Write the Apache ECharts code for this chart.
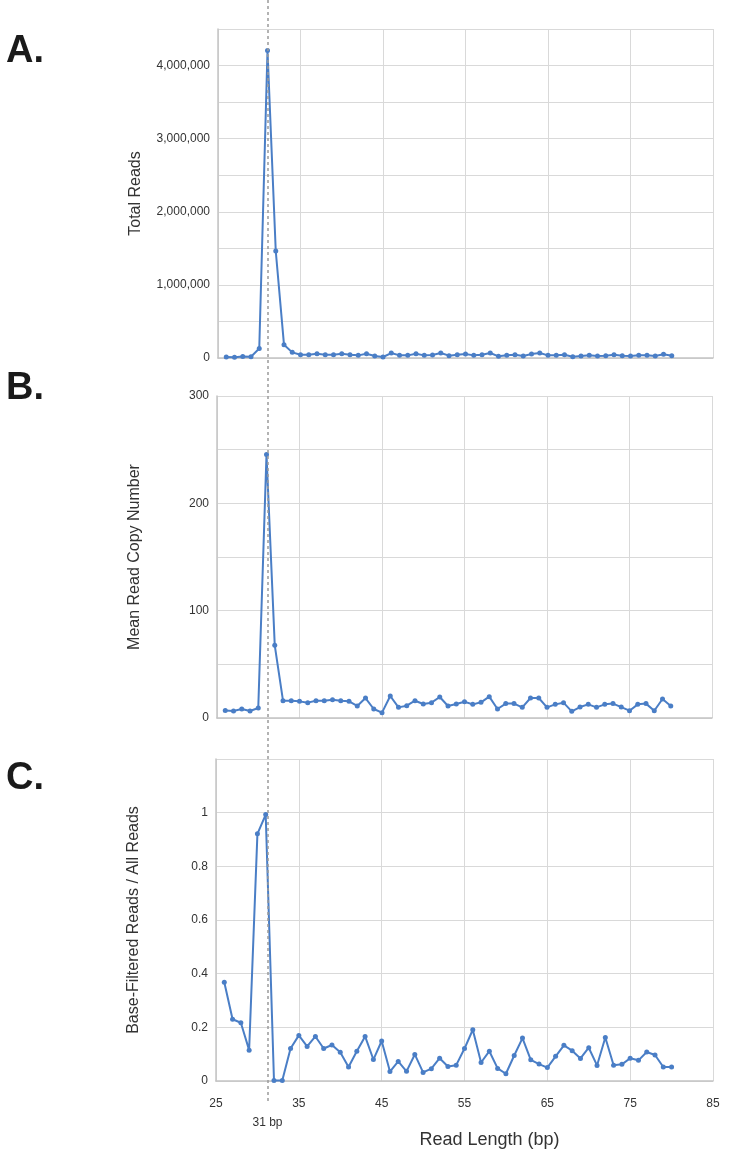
<!DOCTYPE html>
<html>
<head>
  <meta charset="utf-8">
  <title>Read length distribution</title>
  <script src="https://cdn.jsdelivr.net/npm/echarts@6/dist/echarts.min.js"></script>
  <style>
    html, body { margin: 0; padding: 0; background: #fff; }
    #main { width: 729px; height: 1150px; }
  </style>
</head>
<body>
  <div id="main"></div>
  <script>
  // read lengths (bp)
  var readLengths = [26, 27, 28, 29, 30, 31, 32, 33, 34, 35, 36, 37, 38, 39, 40, 41, 42, 43, 44, 45,
    46, 47, 48, 49, 50, 51, 52, 53, 54, 55, 56, 57, 58, 59, 60, 61, 62, 63, 64, 65,
    66, 67, 68, 69, 70, 71, 72, 73, 74, 75, 76, 77, 78, 79, 80];

  // A. total reads
  var totalReads = [12000, 10000, 20000, 18000, 130000, 4205000, 1464000, 180000, 77000, 45000,
    45000, 58000, 45000, 45000, 58000, 45000, 36000, 58000, 27000, 14000,
    68000, 36000, 36000, 58000, 36000, 40000, 68000, 32000, 45000, 54000,
    36000, 45000, 68000, 23000, 36000, 45000, 27000, 54000, 68000, 36000,
    36000, 45000, 18000, 27000, 36000, 27000, 32000, 45000, 32000, 27000,
    36000, 36000, 27000, 50000, 32000];

  // B. mean read copy number
  var meanCopyNumber = [7.1, 6.5, 8.4, 6.5, 9.3, 245.6, 67.7, 16.1, 16.1, 15.5,
    14.3, 16.1, 16.1, 17.1, 16.1, 15.5, 11.2, 18.6, 8.4, 5.0,
    20.5, 9.9, 11.5, 16.1, 13.0, 14.3, 19.6, 11.2, 13.0, 15.2,
    12.7, 14.6, 19.9, 8.4, 13.4, 13.4, 9.9, 18.6, 18.6, 9.9,
    12.7, 14.3, 6.2, 10.2, 12.7, 9.9, 12.7, 13.4, 10.2, 6.8,
    12.7, 13.4, 6.8, 17.7, 11.2];

  // C. base-filtered reads / all reads
  var filteredFraction = [0.368, 0.230, 0.217, 0.115, 0.921, 0.993, 0.002, 0.002, 0.121, 0.170,
    0.129, 0.166, 0.121, 0.134, 0.107, 0.052, 0.111, 0.166, 0.080, 0.149,
    0.035, 0.073, 0.036, 0.099, 0.032, 0.046, 0.085, 0.054, 0.059, 0.121,
    0.191, 0.069, 0.111, 0.047, 0.027, 0.095, 0.160, 0.079, 0.063, 0.050,
    0.092, 0.133, 0.113, 0.084, 0.124, 0.058, 0.162, 0.059, 0.062, 0.085,
    0.077, 0.108, 0.097, 0.052, 0.052];

  var markerLength = 31;
  var panelLetters = ['A.', 'B.', 'C.'];
  var yTitles = ['Total Reads', 'Mean Read Copy Number', 'Base-Filtered Reads / All Reads'];

  function pairs(ys) {
    return readLengths.map(function (x, i) { return [x, ys[i]]; });
  }

  var lineColor = '#4a7ec6';
  var gridColor = '#d9d9d9';
  var axisColor = '#c4c4c4';
  var textColor = '#333';
  var font = 'Liberation Sans, Arial, sans-serif';

  function xAxisFor(gridIndex, showLabels) {
    return {
      type: 'value', gridIndex: gridIndex, min: 25, max: 85, interval: 10,
      axisLine: { show: true, lineStyle: { color: axisColor, width: 1.5 } },
      axisTick: { show: false },
      splitLine: { show: true, lineStyle: { color: gridColor, width: 1 } },
      axisLabel: { show: showLabels, color: textColor, fontSize: 12, fontFamily: font, margin: 17 },
      name: showLabels ? 'Read Length (bp)' : '',
      nameLocation: 'middle', nameGap: 50,
      nameTextStyle: { color: textColor, fontSize: 18, fontFamily: font, padding: [0, 0, 0, 50] }
    };
  }

  function yAxisFor(gridIndex, max, interval, formatter, title) {
    return {
      type: 'value', gridIndex: gridIndex, min: 0, max: max, interval: interval,
      axisLine: { show: true, lineStyle: { color: axisColor, width: 1.5 } },
      axisTick: { show: false },
      splitLine: { show: true, lineStyle: { color: gridColor, width: 1 } },
      axisLabel: { color: textColor, fontSize: 12, fontFamily: font, margin: 8, formatter: formatter },
      name: title, nameLocation: 'middle', nameRotate: 90, nameGap: 74,
      nameTextStyle: { color: textColor, fontSize: 16, fontFamily: font }
    };
  }

  function lineSeries(idx, ys) {
    return {
      type: 'line', xAxisIndex: idx, yAxisIndex: idx, data: pairs(ys),
      symbol: 'circle', symbolSize: 5, showSymbol: true,
      lineStyle: { color: lineColor, width: 2 },
      itemStyle: { color: lineColor },
      animation: false, z: 3
    };
  }

  var myChart = echarts.init(document.getElementById('main'), null, { renderer: 'canvas' });

  myChart.setOption({
    backgroundColor: '#fff',
    animation: false,
    title: panelLetters.map(function (t, i) {
      return {
        text: t, left: 1, top: [28, 365, 755][i],
        textStyle: { fontSize: 38, fontWeight: 'bold', color: '#1a1a1a', fontFamily: font }
      };
    }),
    grid: [
      { left: 218, right: 16, top: 29, height: 329 },
      { left: 217, right: 17, top: 396, height: 322 },
      { left: 216, right: 16, top: 759, height: 322 },
      { left: 218, right: 16, top: 0, height: 1101 }
    ],
    xAxis: [
      xAxisFor(0, false),
      xAxisFor(1, false),
      xAxisFor(2, true),
      { type: 'value', gridIndex: 3, min: 25, max: 85, show: false }
    ],
    yAxis: [
      yAxisFor(0, 4500000, 500000, function (v) {
        return v % 1000000 === 0 ? v.toLocaleString('en-US') : '';
      }, yTitles[0]),
      yAxisFor(1, 300, 50, function (v) {
        return v % 100 === 0 ? String(v) : '';
      }, yTitles[1]),
      yAxisFor(2, 1.2, 0.2, function (v) {
        return v > 1.1 ? '' : String(Math.round(v * 10) / 10);
      }, yTitles[2]),
      { type: 'value', gridIndex: 3, min: 0, max: 1, show: false }
    ],
    series: [
      lineSeries(0, totalReads),
      lineSeries(1, meanCopyNumber),
      lineSeries(2, filteredFraction),
      {
        type: 'line', xAxisIndex: 3, yAxisIndex: 3, data: [], z: 10,
        markLine: {
          silent: true, symbol: 'none', animation: false,
          lineStyle: { color: '#9a9a9a', type: [3, 3], width: 1.5 },
          label: {
            show: true, position: 'start', distance: 16,
            formatter: markerLength + ' bp',
            color: textColor, fontSize: 12, fontFamily: font
          },
          data: [{ xAxis: markerLength }]
        }
      }
    ]
  });
  </script>
</body>
</html>
